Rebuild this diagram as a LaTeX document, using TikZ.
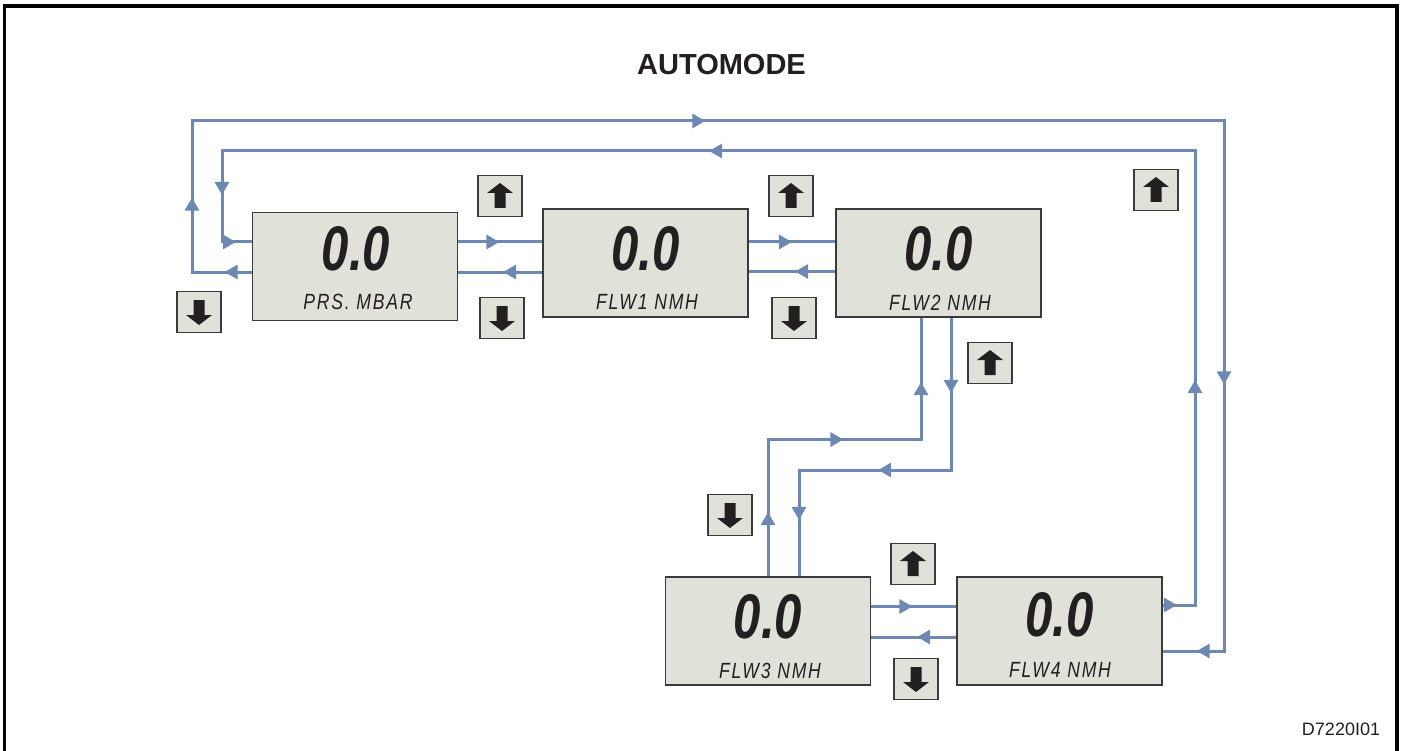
\documentclass[tikz,border=0pt]{standalone}
\usepackage{fontspec}
\setmainfont{Liberation Sans}
\newfontfamily\lcddig{Liberation Sans}[FakeStretch=0.78]
\newfontfamily\lcdlab{Liberation Sans}[FakeStretch=0.8,LetterSpace=8]
\usetikzlibrary{arrows.meta,decorations.markings}
\definecolor{lcdfill}{HTML}{E0E1D9}
\definecolor{edge}{HTML}{3A3A3A}
\definecolor{flow}{HTML}{6E88B4}
\definecolor{ink}{HTML}{231F20}
\tikzset{
  tri/.tip={Triangle[length=13pt,width=14pt]},
  lcdbox/.style={draw=edge, fill=lcdfill, line width=1.8pt, minimum width=205pt, minimum height=108pt, inner sep=0pt},
  digit/.style={anchor=base, inner sep=0pt, text=ink, font=\lcddig\bfseries\itshape\fontsize{63}{63}\selectfont},
  lcdtext/.style={anchor=base, inner sep=0pt, text=ink, font=\lcdlab\itshape\fontsize{22}{22}\selectfont},
  flowline/.style={draw=flow, line width=3pt},
  btnbox/.style={draw=edge, fill=lcdfill, line width=1.5pt, minimum width=44pt, minimum height=41pt, inner sep=0pt},
  upbtn/.pic={\node[btnbox] (-b) at (0,0) {};
    \fill[ink] (0,-13) -- (13,-3) -- (5.5,-3) -- (5.5,12) -- (-5.5,12) -- (-5.5,-3) -- (-13,-3) -- cycle;},
  downbtn/.pic={\node[btnbox] (-b) at (0,0) {};
    \fill[ink] (0,13) -- (13,3) -- (5.5,3) -- (5.5,-12) -- (-5.5,-12) -- (-5.5,3) -- (-13,3) -- cycle;},
}
\begin{document}
\begin{tikzpicture}[x=1pt,y=-1pt]
\useasboundingbox (0,0) rectangle (1404,751);
% frame
\draw[line width=3.5pt, black] (4.5,751) -- (4.5,5.8) -- (1397,5.8) -- (1397,751);
% titles
\node[anchor=base, inner sep=0pt, font=\bfseries\fontsize{29}{30}\selectfont, text=ink] (title) at (721.5,74.5) {AUTOMODE};
\node[anchor=base, inner sep=0pt, font=\fontsize{18}{18}\selectfont, text=ink] (code) at (1341,735) {D7220I01};
% display boxes
\node[lcdbox] (p)  at (355,266.5) {};
\node[lcdbox] (f1) at (645.5,263) {};
\node[lcdbox] (f2) at (938.5,263) {};
\node[lcdbox] (f3) at (768,631) {};
\node[lcdbox] (f4) at (1059.5,631) {};
% display texts
\node[digit] (pv)  at (356,270) {0.0};
\node[digit] (f1v) at (645.5,270) {0.0};
\node[digit] (f2v) at (938.5,270) {0.0};
\node[digit] (f3v) at (768,638) {0.0};
\node[digit] (f4v) at (1059.5,636) {0.0};
\node[lcdtext] (pl)  at (358,309) {PRS. MBAR};
\node[lcdtext] (f1l) at (647,309) {FLW1 NMH};
\node[lcdtext] (f2l) at (940,310) {FLW2 NMH};
\node[lcdtext] (f3l) at (770,678) {FLW3 NMH};
\node[lcdtext] (f4l) at (1060,677) {FLW4 NMH};
% buttons
\pic (d1) at (199,312) {downbtn};
\pic (u1) at (500,196) {upbtn};
\pic (d2) at (502,318) {downbtn};
\pic (u2) at (791,196) {upbtn};
\pic (d3) at (794,318) {downbtn};
\pic (u3) at (1156,190) {upbtn};
\pic (u4) at (990,363) {upbtn};
\pic (d4) at (730,515) {downbtn};
\pic (u5) at (913,564) {upbtn};
\pic (d5) at (916,679) {downbtn};
% connectors top row
\draw[flowline, postaction={decorate, decoration={markings, mark=at position 41pt with {\arrow{tri}}}}]
  (p.east |- 0,242) -- (f1.west |- 0,242);
\draw[flowline, postaction={decorate, decoration={markings, mark=at position 39pt with {\arrow{tri}}}}]
  (f1.west |- 0,272) -- (p.east |- 0,272);
\draw[flowline, postaction={decorate, decoration={markings, mark=at position 43pt with {\arrow{tri}}}}]
  (f1.east |- 0,242) -- (f2.west |- 0,242);
\draw[flowline, postaction={decorate, decoration={markings, mark=at position 40pt with {\arrow{tri}}}}]
  (f2.west |- 0,271.5) -- (f1.east |- 0,271.5);
% bottom row
\draw[flowline, postaction={decorate, decoration={markings, mark=at position 41pt with {\arrow{tri}}}}]
  (f3.east |- 0,606.5) -- (f4.west |- 0,606.5);
\draw[flowline, postaction={decorate, decoration={markings, mark=at position 39pt with {\arrow{tri}}}}]
  (f4.west |- 0,637) -- (f3.east |- 0,637);
% loop A: PRS -> FLW4
\draw[flowline, postaction={decorate, decoration={markings,
    mark=at position 27pt with {\arrow{tri}},
    mark=at position 134pt with {\arrow{tri}},
    mark=at position 724pt with {\arrow{tri}},
    mark=at position 1506pt with {\arrow{tri}},
    mark=at position 1800pt with {\arrow{tri}}}}]
  (p.west |- 0,272) -- (192,272) -- (192,121) -- (1224,121) -- (1224,651) -- (f4.east |- 0,651);
% loop B: FLW4 -> PRS
\draw[flowline, postaction={decorate, decoration={markings,
    mark=at position 14pt with {\arrow{tri}},
    mark=at position 257pt with {\arrow{tri}},
    mark=at position 972pt with {\arrow{tri}},
    mark=at position 1503pt with {\arrow{tri}},
    mark=at position 1564pt with {\arrow{tri}}}}]
  (f4.east |- 0,605) -- (1195,605) -- (1195,151) -- (222,151) -- (222,242) -- (p.west |- 0,242);
% FLW3 -> FLW2
\draw[flowline, postaction={decorate, decoration={markings,
    mark=at position 64pt with {\arrow{tri}},
    mark=at position 212pt with {\arrow{tri}},
    mark=at position 347pt with {\arrow{tri}}}}]
  (f3.north) -- (768,439.5) -- (921,439.5) -- (f2.south -| 921,0);
% FLW2 -> FLW3
\draw[flowline, postaction={decorate, decoration={markings,
    mark=at position 75pt with {\arrow{tri}},
    mark=at position 225pt with {\arrow{tri}},
    mark=at position 354pt with {\arrow{tri}}}}]
  (f2.south -| 951,0) -- (951,470) -- (799,470) -- (f3.north -| 799,0);
\end{tikzpicture}
\end{document}
